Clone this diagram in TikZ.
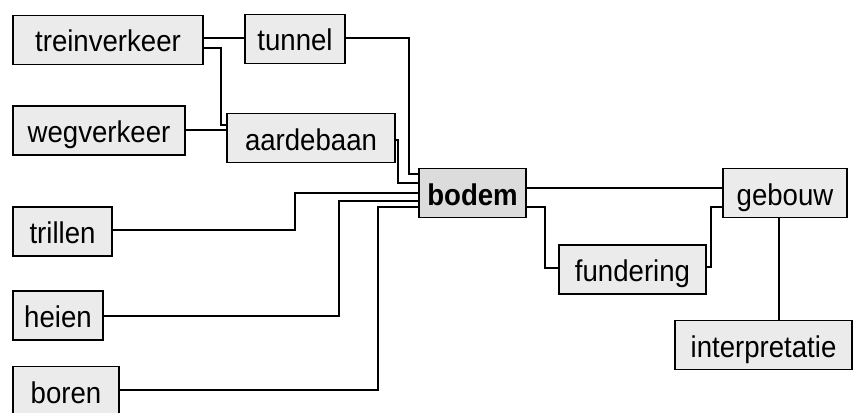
\documentclass[tikz,border=0pt]{standalone}
\usepackage{fontspec}
\setmainfont{Liberation Sans}[FakeStretch=0.92]
\usetikzlibrary{positioning}
\definecolor{blokgrijs}{HTML}{EBEBEB}
\definecolor{kerngrijs}{HTML}{DCDCDC}

\begin{document}
\begin{tikzpicture}[x=1pt,y=-1pt,line width=1.5pt]
	\useasboundingbox (0,0) rectangle (853,412);
	\tikzset{blok/.style={draw,fill=blokgrijs,minimum height=49pt,inner sep=0pt,text height=24pt,text depth=0pt,font=\fontsize{30}{32}\selectfont}}
	\tikzset{lijn/.style={draw,line width=1.5pt}}
	\node[blok,minimum width=190pt] (trein)   at (108,40)    {treinverkeer};
	\node[blok,minimum width=100pt] (tunnel)  at (295,39)    {tunnel};
	\node[blok,minimum width=172pt] (weg)     at (99,130.5)  {wegverkeer};
	\node[blok,minimum width=168pt] (aarde)   at (311,138)   {aardebaan};
	\node[blok,minimum width=107pt,fill=kerngrijs,font=\fontsize{30}{32}\selectfont\bfseries] (bodem) at (472.5,193) {bodem};
	\node[blok,minimum width=124pt] (gebouw)  at (785,193)   {gebouw};
	\node[blok,minimum width=147pt] (fund)    at (632.5,269.5) {fundering};
	\node[blok,minimum width=99pt]  (trillen) at (62.5,231.5) {trillen};
	\node[blok,minimum width=90pt]  (heien)   at (58,315.5)  {heien};
	\node[blok,minimum width=106pt] (boren)   at (66,391)    {boren};
	\node[blok,minimum width=177pt] (interp)  at (763.5,345) {interpretatie};
	% verbindingen naar bodem
	\path[lijn] (trein.east |- 0,38) -- (tunnel.west |- 0,38);
	\path[lijn] (trein.east |- 0,48) -| (221,125) -- (aarde.west |- 0,125);
	\path[lijn] (weg.east |- 0,130) -- (aarde.west |- 0,130);
	\path[lijn] (tunnel.east |- 0,38) -| (409,174) -- (bodem.west |- 0,174);
	\path[lijn] (aarde.east |- 0,140) -- ++(2,0) |- (bodem.west |- 0,183);
	\path[lijn] (trillen.east |- 0,230) -| (295,193) -- (bodem.west |- 0,193);
	\path[lijn] (heien.east |- 0,316) -| (339,201) -- (bodem.west |- 0,201);
	\path[lijn] (boren.east |- 0,390) -| (378,207) -- (bodem.west |- 0,207);
	% verbindingen naar gebouw
	\path[lijn] (bodem.east |- 0,188) -- (gebouw.west |- 0,188);
	\path[lijn] (bodem.east |- 0,207) -| (545,268) -- (fund.west |- 0,268);
	\path[lijn] (fund.east |- 0,267) -| (711,207) -- (gebouw.west |- 0,207);
	\path[lijn] (gebouw.south -| 779,0) -- (interp.north -| 779,0);
\end{tikzpicture}
\end{document}
